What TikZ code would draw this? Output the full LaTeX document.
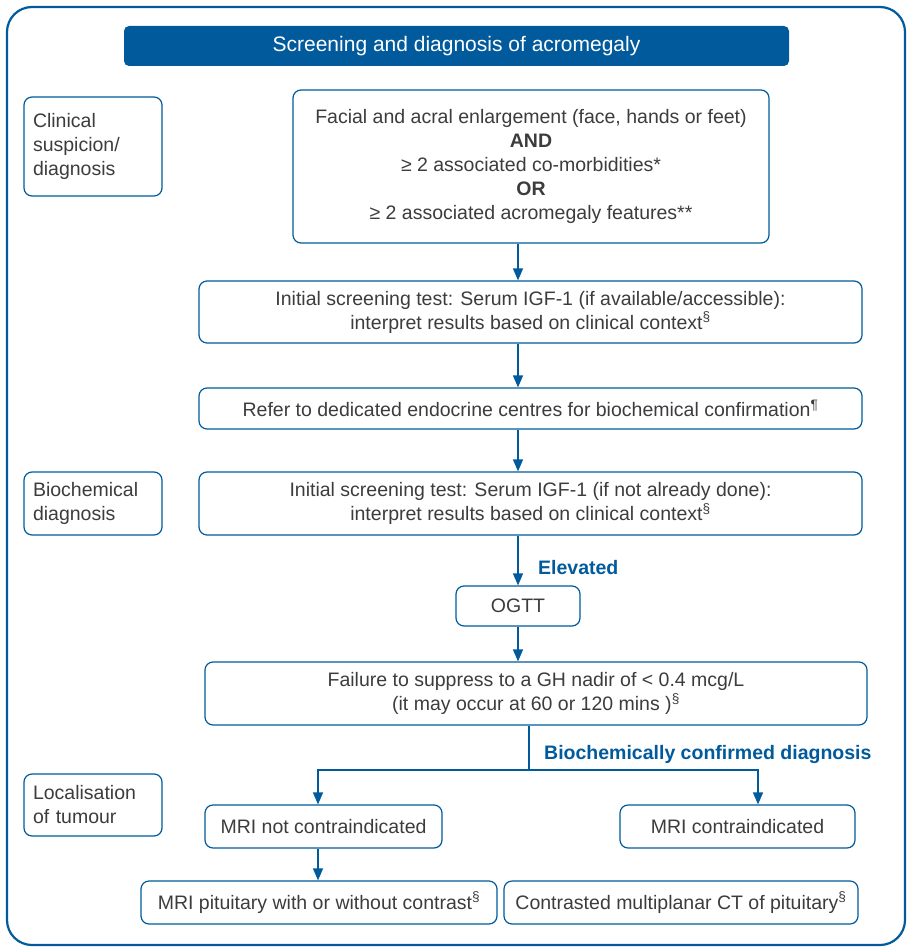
\documentclass[tikz,border=0pt]{standalone}
\usepackage{fontspec}
\setmainfont{Liberation Sans}
\usetikzlibrary{arrows.meta}
\definecolor{myblue}{RGB}{0,90,156}
\definecolor{mytext}{RGB}{60,60,60}
\newcommand{\fs}{\fontsize{19.5pt}{24pt}\selectfont}
\newcommand{\fh}{\fontsize{21pt}{24pt}\selectfont}
\tikzset{
  box/.style={draw=myblue, line width=1.2pt, rounded corners=8pt, text=mytext, align=center, inner sep=0pt, font=\fs},
  lbox/.style={box, align=left, inner xsep=9pt, text width=120pt},
  arr/.style={draw=myblue, line width=1.3pt, -{Triangle[width=10pt,length=12pt]}},
  conn/.style={draw=myblue, line width=1.3pt},
  blab/.style={text=myblue, font=\fs\bfseries, inner sep=0pt},
}
\begin{document}
\begin{tikzpicture}[x=1pt,y=-1pt]
\useasboundingbox (0,0) rectangle (910,949);
\draw[myblue, line width=2.2pt, rounded corners=25pt] (7,7) rectangle (905,945);
\node[fill=myblue, rounded corners=5pt, minimum width=665pt, minimum height=40pt, text=white, font=\fh, inner sep=0pt] (head) at (456.5,46) {Screening and diagnosis of acromegaly};

\node[lbox, minimum height=99pt] (l1) at (93,146.5) {Clinical\\suspicion/\\diagnosis};
\node[lbox, minimum height=63pt] (l2) at (93,503.5) {Biochemical\\diagnosis};
\node[lbox, minimum height=62pt] (l3) at (93,805) {Localisation\\of tumour};

\node[box, minimum width=476pt, minimum height=153pt] (b1) at (531,166.5) {Facial and acral enlargement (face, hands or feet)\\\textbf{AND}\\≥ 2 associated co-morbidities*\\\textbf{OR}\\≥ 2 associated acromegaly features**};
\node[box, minimum width=663pt, minimum height=62pt] (b2) at (530.5,312) {Initial screening test: Serum IGF-1 (if available/accessible):\\interpret results based on clinical context\textsuperscript{\S}};
\node[box, minimum width=663pt, minimum height=41pt] (b3) at (530.5,408.5) {Refer to dedicated endocrine centres for biochemical confirmation\textsuperscript{\P}};
\node[box, minimum width=663pt, minimum height=63pt] (b4) at (530.5,503.5) {Initial screening test: Serum IGF-1 (if not already done):\\interpret results based on clinical context\textsuperscript{\S}};
\node[box, minimum width=124pt, minimum height=40pt] (og) at (518,606) {OGTT};
\node[box, minimum width=662pt, minimum height=63pt] (b5) at (536,693.5) {Failure to suppress to a GH nadir of < 0.4 mcg/L\\(it may occur at 60 or 120 mins )\textsuperscript{\S}};
\node[box, minimum width=237pt, minimum height=43pt] (mn) at (323.5,826.5) {MRI not contraindicated};
\node[box, minimum width=235pt, minimum height=43pt] (mc) at (737.5,826.5) {MRI contraindicated};
\node[box, minimum width=356pt, minimum height=43pt] (mp) at (319,902.5) {MRI pituitary with or without contrast\textsuperscript{\S}};
\node[box, minimum width=354pt, minimum height=43pt] (ct) at (681,902.5) {Contrasted multiplanar CT of pituitary\textsuperscript{\S}};

\node[blab, anchor=west] (elev) at (538,568) {Elevated};
\node[blab, anchor=west] (bcd) at (544,754) {Biochemically confirmed diagnosis};

\draw[arr] (b1.south -| og) -- (b2.north -| og);
\draw[arr] (b2.south -| og) -- (b3.north -| og);
\draw[arr] (b3.south -| og) -- (b4.north -| og);
\draw[arr] (b4.south -| og) -- (og.north);
\draw[arr] (og.south) -- (b5.north -| og);

\coordinate (sp) at (529,770);
\coordinate (lt) at (318,770);
\coordinate (rt) at (758,770);
\draw[conn] (b5.south -| sp) -- (sp);
\draw[arr] (sp) -- (lt) -- (lt |- mn.north);
\draw[arr] (sp) -- (rt) -- (rt |- mc.north);
\draw[arr] (mn.south -| lt) -- (mp.north -| lt);
\end{tikzpicture}
\end{document}
